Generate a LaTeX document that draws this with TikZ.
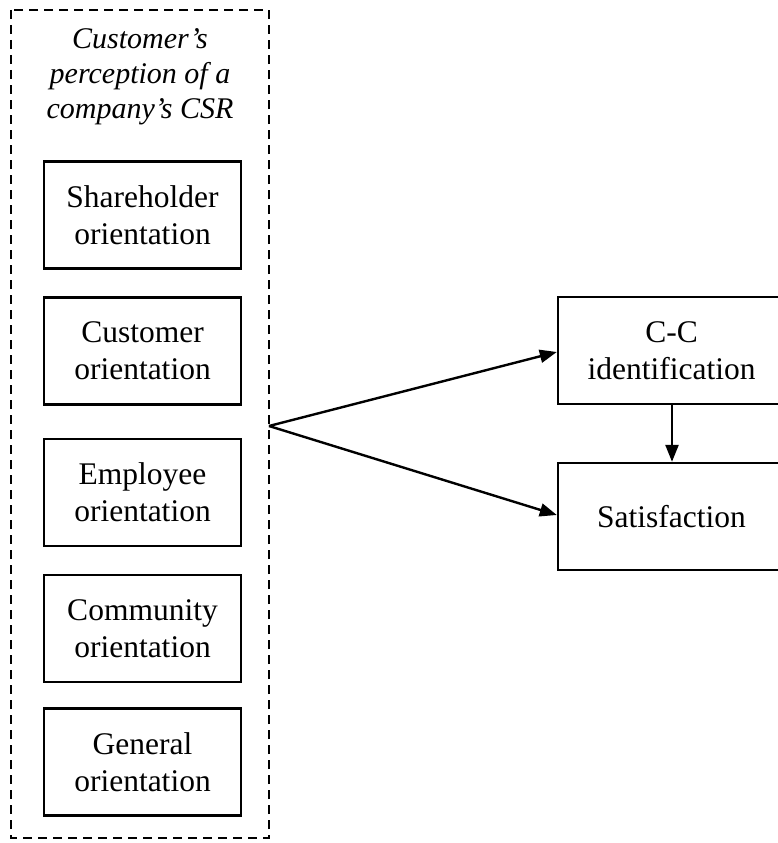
\documentclass[tikz,border=0pt]{standalone}
\usepackage{fontspec}
\setmainfont{Liberation Serif}
\usetikzlibrary{arrows.meta}
\tikzset{
  ibox/.style={draw, line width=2.4pt, minimum width=197pt, minimum height=107pt, inner sep=0pt, align=center, font=\fontsize{31.5}{37}\selectfont},
  rbox/.style={draw, line width=2.4pt, minimum width=227pt, minimum height=107pt, inner sep=0pt, align=center, font=\fontsize{31.5}{37}\selectfont},
  conn/.style={line width=2.4pt, -{Triangle[length=17pt,width=13pt]}},
  group/.style={draw, dash pattern=on 9pt off 6pt, line width=2.4pt}
}
\begin{document}
\begin{tikzpicture}[x=1pt,y=-1pt]
\useasboundingbox (0,0) rectangle (777,843);
\draw[group] (11,10) rectangle (269,838);
\node[align=center, font=\itshape\fontsize{30}{35}\selectfont] (title) at (140,77) {Customer's\\perception of a\\company's CSR};
\node[ibox] (sh) at (142.5,215) {Shareholder\\orientation};
\node[ibox] (cu) at (142.5,351) {Customer\\orientation};
\node[ibox] (em) at (142.5,492.5) {Employee\\orientation};
\node[ibox] (co) at (142.5,628.5) {Community\\orientation};
\node[ibox] (ge) at (142.5,762) {General\\orientation};
\node[rbox] (cc) at (671.5,350.5) {C-C\\identification};
\node[rbox] (sa) at (671.5,516.5) {Satisfaction};
\coordinate (src) at (269,426);
\draw[conn] (src) -- (cc.west |- 0,352);
\draw[conn] (src) -- (sa.west |- 0,515);
\draw[conn] (cc.south -| 672,0) -- (sa.north -| 672,0);
\end{tikzpicture}
\end{document}
